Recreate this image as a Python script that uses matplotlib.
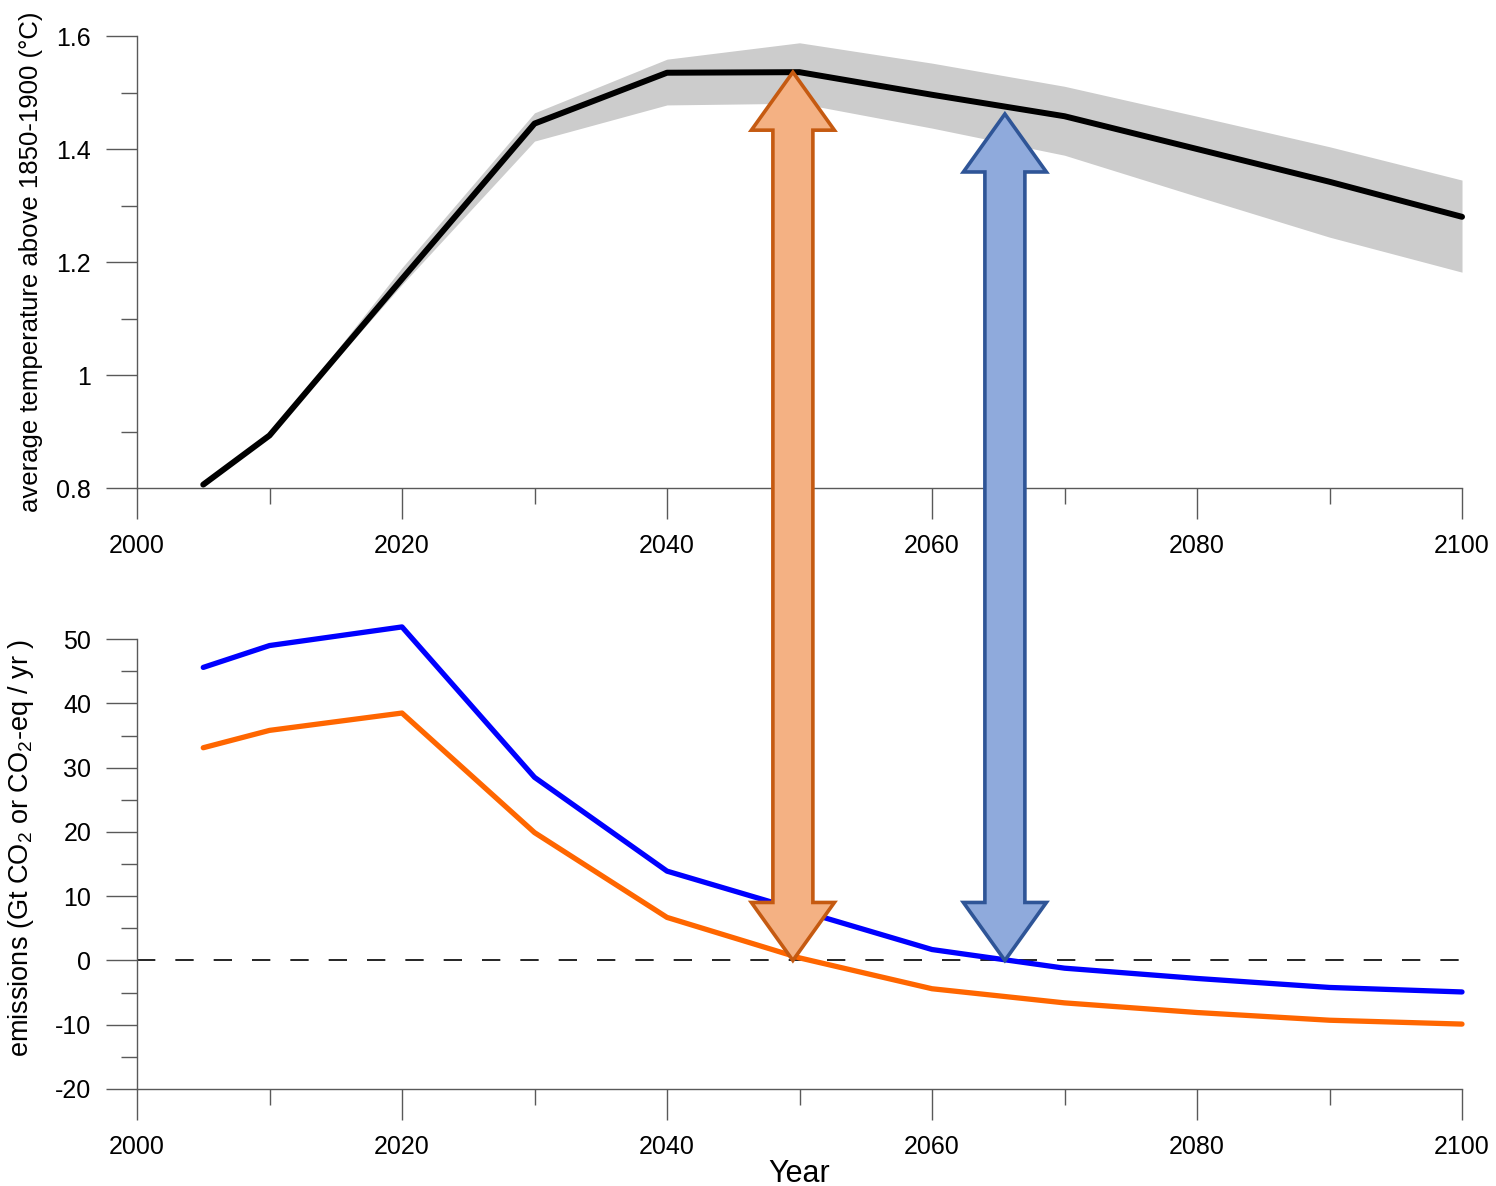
import matplotlib.pyplot as plt
from matplotlib.patches import Polygon
from matplotlib.ticker import MultipleLocator, FixedLocator

plt.rcParams['font.family'] = ['Liberation Sans', 'DejaVu Sans']
plt.rcParams['mathtext.default'] = 'regular'
plt.rcParams['axes.unicode_minus'] = False

# temperature pathway
temp_years = [2005, 2010, 2020, 2030, 2040, 2050, 2060, 2070, 2080, 2090, 2100]
temp_mean = [0.806, 0.893, 1.17, 1.445, 1.535, 1.536, 1.496, 1.458, 1.400, 1.342, 1.280]

# uncertainty band
band_years = [2010, 2020, 2030, 2040, 2050, 2060, 2070, 2080, 2090, 2100]
band_low = [0.893, 1.16, 1.414, 1.478, 1.481, 1.437, 1.389, 1.316, 1.244, 1.182]
band_high = [0.893, 1.19, 1.464, 1.559, 1.588, 1.552, 1.511, 1.458, 1.404, 1.345]

# emissions
em_years = [2005, 2010, 2020, 2030, 2040, 2050, 2060, 2070, 2080, 2090, 2100]
em_ghg = [45.6, 49.0, 51.9, 28.5, 13.9, 7.8, 1.7, -1.2, -2.8, -4.2, -4.9]
em_co2 = [33.1, 35.8, 38.5, 19.9, 6.7, 0.4, -4.4, -6.6, -8.1, -9.3, -9.9]

# arrows: (year, temperature reached, emission level, fill, edge)
arrows = [
    (2049.5, 1.536, 0, '#F4B183', '#C55A11'),
    (2065.5, 1.462, 0, '#8FAADC', '#2F5597'),
]

FS = 18
AXC = '#595959'

fig = plt.figure(figsize=(14.96, 11.86), dpi=100)
ax1 = fig.add_axes([0.09158, 0.58853, 0.88570, 0.38111])
ax2 = fig.add_axes([0.09158, 0.08179, 0.88570, 0.40641])


def style(ax):
    for s in ['top', 'right']:
        ax.spines[s].set_visible(False)
    for s in ['left', 'bottom']:
        ax.spines[s].set_color(AXC)
        ax.spines[s].set_linewidth(1.0)
    ax.tick_params(which='major', length=22, width=1.0, color=AXC, labelsize=FS, pad=11)
    ax.tick_params(which='minor', length=11.5, width=1.0, color=AXC)
    ax.tick_params(axis='y', which='major', pad=11)
    ax.set_xlim(2000, 2100)
    ax.xaxis.set_major_locator(MultipleLocator(20))
    ax.xaxis.set_minor_locator(MultipleLocator(10))


# top panel
style(ax1)
ax1.fill_between(band_years, band_low, band_high, color='#CCCCCC', linewidth=0)
ax1.plot(temp_years, temp_mean, color='black', lw=4.3, solid_capstyle='round',
         solid_joinstyle='round', clip_on=False)
ax1.set_ylim(0.8, 1.6)
ax1.set_yticks([0.8, 1.0, 1.2, 1.4, 1.6])
ax1.set_yticklabels(['0.8', '1', '1.2', '1.4', '1.6'])
ax1.yaxis.set_minor_locator(MultipleLocator(0.1))
ax1.set_ylabel('average temperature above 1850-1900 (°C)', fontsize=18.5)
ax1.yaxis.set_label_coords(-0.071, 0.5)

# bottom panel
style(ax2)
ax2.axhline(0, color='black', lw=1.2, dashes=(11, 12))
ax2.plot(em_years, em_ghg, color='#0000FF', lw=3.8, solid_capstyle='round', clip_on=False)
ax2.plot(em_years, em_co2, color='#FF6600', lw=3.8, solid_capstyle='round', clip_on=False)
ax2.set_ylim(-20, 55)
ax2.spines['left'].set_bounds(-20, 50)
ax2.set_yticks(range(-20, 51, 10))
ax2.yaxis.set_minor_locator(FixedLocator(range(-15, 50, 10)))
ax2.set_ylabel('emissions (Gt CO$_2$ or CO$_2$-eq / yr )', fontsize=19.5)
ax2.yaxis.set_label_coords(-0.076, 0.5)
ax2.set_xlabel('Year', fontsize=22, labelpad=0)

# double-headed block arrows spanning both panels
fig.canvas.draw()
inv = fig.transFigure.inverted()
half_shaft, half_head, head_len = 20, 41.5, 58
for year, t_top, e_bot, fc, ec in arrows:
    x, y1 = ax1.transData.transform((year, t_top))
    _, y0 = ax2.transData.transform((year, e_bot))
    pts = [
        (x, y1), (x + half_head, y1 - head_len), (x + half_shaft, y1 - head_len),
        (x + half_shaft, y0 + head_len), (x + half_head, y0 + head_len), (x, y0),
        (x - half_head, y0 + head_len), (x - half_shaft, y0 + head_len),
        (x - half_shaft, y1 - head_len), (x - half_head, y1 - head_len),
    ]
    pts = inv.transform(pts)
    fig.patches.append(Polygon(pts, closed=True, transform=fig.transFigure,
                               facecolor=fc, edgecolor=ec, lw=2.6, joinstyle='miter',
                               figure=fig, zorder=5))

fig.savefig('out.png', dpi=100)
